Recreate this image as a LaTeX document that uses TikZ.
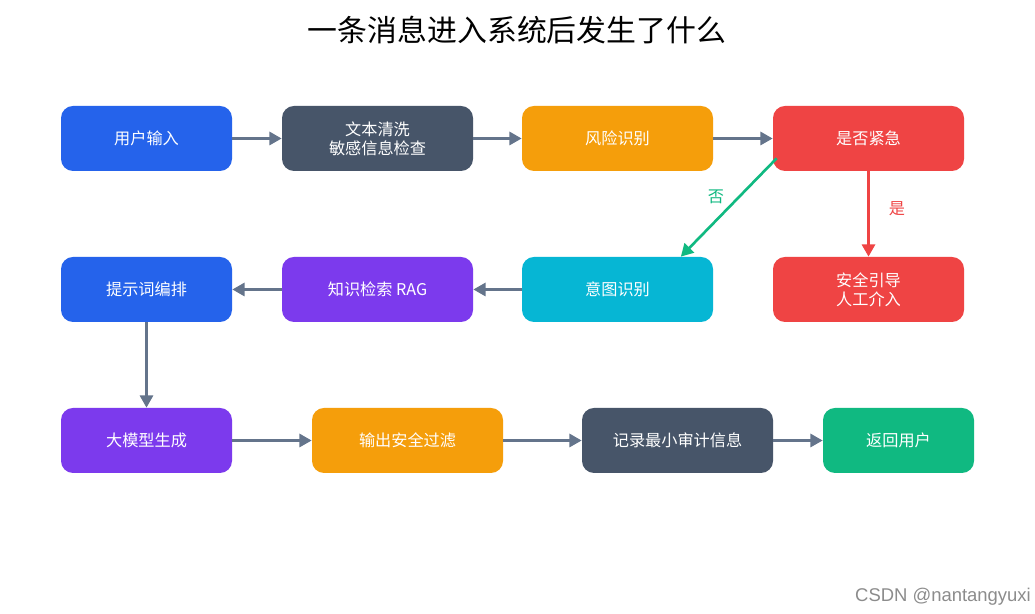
\documentclass[tikz,border=0pt]{standalone}
\usepackage{fontspec}
\setmainfont{Noto Sans CJK SC}
\newfontfamily\markfont{Liberation Sans}
\usetikzlibrary{arrows.meta,calc}

\definecolor{cblue}{HTML}{2563EB}
\definecolor{cslate}{HTML}{475569}
\definecolor{corange}{HTML}{F59E0B}
\definecolor{cred}{HTML}{EF4444}
\definecolor{ccyan}{HTML}{06B6D4}
\definecolor{cpurple}{HTML}{7C3AED}
\definecolor{cgreen}{HTML}{10B981}
\definecolor{carrow}{HTML}{64748B}

\begin{document}
\begin{tikzpicture}[font=\fontsize{9.2}{10.8}\selectfont]
                \tikzstyle{stepbox}=[rounded corners=0.24cm, minimum height=1.3cm, minimum width=3.82cm, inner sep=0pt, text=white, align=center]
                \tikzstyle{flow}=[line width=1.5pt, -{Triangle[length=7pt,width=7.5pt]}, draw=carrow]

                \useasboundingbox[fill=white] (0,0) rectangle (20.7,12.28);

                \node (title) at (10.34,11.68) {\fontsize{17}{20}\selectfont 一条消息进入系统后发生了什么};

                % first row
                \node[stepbox, fill=cblue, minimum width=3.42cm] (input) at (2.93,9.51) {用户输入};
                \node[stepbox, fill=cslate] (clean) at (7.55,9.51) {文本清洗\\敏感信息检查};
                \node[stepbox, fill=corange] (risk) at (12.35,9.51) {风险识别};
                \node[stepbox, fill=cred] (urgent) at (17.37,9.51) {是否紧急};

                % second row
                \node[stepbox, fill=cblue, minimum width=3.42cm] (prompt) at (2.93,6.49) {提示词编排};
                \node[stepbox, fill=cpurple] (rag) at (7.55,6.49) {知识检索 RAG};
                \node[stepbox, fill=ccyan] (intent) at (12.35,6.49) {意图识别};
                \node[stepbox, fill=cred] (guide) at (17.37,6.49) {安全引导\\人工介入};

                % third row
                \node[stepbox, fill=cpurple, minimum width=3.42cm] (llm) at (2.93,3.47) {大模型生成};
                \node[stepbox, fill=corange] (filter) at (8.15,3.47) {输出安全过滤};
                \node[stepbox, fill=cslate] (audit) at (13.55,3.47) {记录最小审计信息};
                \node[stepbox, fill=cgreen, minimum width=3.02cm] (back) at (17.97,3.47) {返回用户};

                \coordinate (nostart) at ($(urgent.south west)+(0.08,0.26)$);
                \coordinate (noend) at ($(intent.north east)+(-0.65,0)$);

                \draw[flow] (input) -- (clean);
                \draw[flow] (clean) -- (risk);
                \draw[flow] (risk) -- (urgent);
                \draw[flow, draw=cgreen, fill=cgreen] (nostart) -- (noend);
                \draw[flow, draw=cred, fill=cred] (urgent) -- (guide);
                \draw[flow] (intent) -- (rag);
                \draw[flow] (rag) -- (prompt);
                \draw[flow] (prompt) -- (llm);
                \draw[flow] (llm) -- (filter);
                \draw[flow] (filter) -- (audit);
                \draw[flow] (audit) -- (back);

                \node[text=cgreen] (nolabel) at (14.32,8.34) {否};
                \node[text=cred] (yeslabel) at (17.94,8.10) {是};

                \node[text=black!45] (mark) at (18.86,0.34) {\markfont\fontsize{10.5}{12}\selectfont CSDN @nantangyuxi};
                \end{tikzpicture}
\end{document}
